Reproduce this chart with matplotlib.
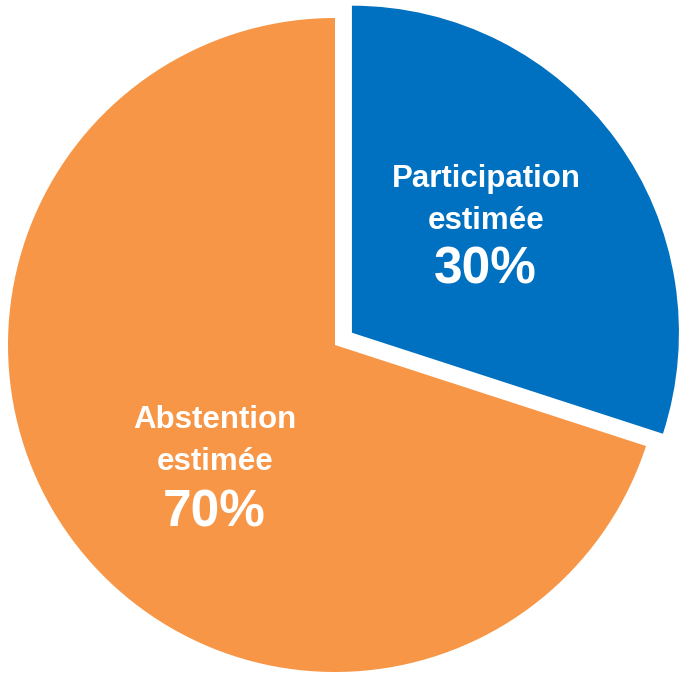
import matplotlib
matplotlib.use("Agg")
import matplotlib.pyplot as plt

labels = ["Participation\nestimée", "Abstention\nestimée"]
values = [30, 70]
colors = ["#0070C0", "#F79646"]
explode = [0.064, 0]

plt.rcParams['font.family'] = ['Liberation Sans', 'DejaVu Sans']

W, H = 679, 673
fig = plt.figure(figsize=(W / 100, H / 100), dpi=100)
ax = fig.add_axes([0, 0, 1, 1])

wedges, _ = ax.pie(values, colors=colors, explode=explode, startangle=90,
                   counterclock=False, radius=1.0,
                   wedgeprops=dict(linewidth=0))

# pixel geometry of the pie: centre (335, 345), radius 327
r_px = 327.0
cx, cy = 335.0, 345.0
ax.set_xlim(-cx / r_px, (W - cx) / r_px)
ax.set_ylim(-(H - cy) / r_px, cy / r_px)
ax.axis('off')

def px(x, y):
    return (x - cx) / r_px, (cy - y) / r_px

# label positions (pixel centres)
label_pos = [(486, 200), (215, 441)]
pct_pos = [(485, 270), (214, 513)]

for lab, val, (lx, ly), (qx, qy) in zip(labels, values, label_pos, pct_pos):
    ax.text(*px(lx, ly), lab, ha='center', va='center', color='white',
            fontsize=22.5, fontweight='bold', linespacing=1.48)
    ax.text(*px(qx, qy), f"{val}%", ha='center', va='center', color='white',
            fontsize=37, fontweight='bold')

fig.savefig("out.png", dpi=100, facecolor='white')
